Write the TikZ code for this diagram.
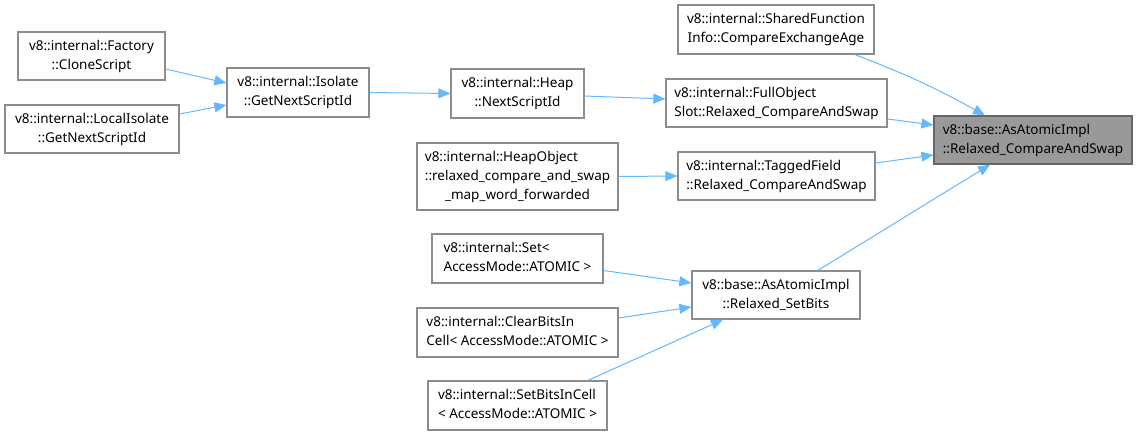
\documentclass[tikz,border=0pt]{standalone}
\usepackage{fontspec}
\setmainfont{Noto Sans}
\usetikzlibrary{arrows.meta,calc}
\definecolor{edgeblue}{HTML}{63B8FF}
\definecolor{boxgray}{HTML}{8C8C8C}
\definecolor{tgtfill}{HTML}{999999}
\definecolor{tgtdraw}{HTML}{666666}
\newcommand{\lbl}[2]{\begin{tabular}{@{}l@{}}#1\\\multicolumn{1}{@{}c@{}}{#2}\end{tabular}}
\begin{document}
\begin{tikzpicture}[x=1pt,y=-1pt,
  fn/.style={draw=boxgray,line width=1.3pt,fill=white,inner sep=0pt,font=\fontsize{13.5}{19}\selectfont},
  tg/.style={fn,draw=tgtdraw,fill=tgtfill},
  call/.style={draw=edgeblue,line width=1pt,-{Triangle[length=12pt,width=10pt]}}]
\useasboundingbox (0,0) rectangle (1137,435);
\renewcommand{\arraystretch}{1.0}
\node[fn,minimum width=147,minimum height=48] (fac) at (91.5,56) {\lbl{v8::internal::Factory}{::CloneScript}};
\node[fn,minimum width=174,minimum height=48] (liso) at (92,129) {\lbl{v8::internal::LocalIsolate}{::GetNextScriptId}};
\node[fn,minimum width=142,minimum height=49] (iso) at (298,92.5) {\lbl{v8::internal::Isolate}{::GetNextScriptId}};
\node[fn,minimum width=133,minimum height=49] (heap) at (517.5,93.5) {\lbl{v8::internal::Heap}{::NextScriptId}};
\node[fn,minimum width=196,minimum height=49] (sfi) at (776,29.5) {\lbl{v8::internal::SharedFunction}{Info::CompareExchangeAge}};
\node[fn,minimum width=221,minimum height=48] (fos) at (776.5,103) {\lbl{v8::internal::FullObject}{Slot::Relaxed\_CompareAndSwap}};
\node[fn,minimum width=201,minimum height=67] (hobj) at (517.5,176.5) {\lbl{v8::internal::HeapObject\\::relaxed\_compare\_and\_swap}{\_map\_word\_forwarded}};
\node[fn,minimum width=197,minimum height=48] (tf) at (776.5,176) {\lbl{v8::internal::TaggedField}{::Relaxed\_CompareAndSwap}};
\node[tg,minimum width=198,minimum height=48] (tgt) at (1033,140) {\lbl{v8::base::AsAtomicImpl}{::Relaxed\_CompareAndSwap}};
\node[fn,minimum width=171,minimum height=49] (set) at (517.5,258.5) {\lbl{v8::internal::Set<}{AccessMode::ATOMIC >}};
\node[fn,minimum width=201,minimum height=49] (clr) at (517.5,332.5) {\lbl{v8::internal::ClearBitsIn}{Cell< AccessMode::ATOMIC >}};
\node[fn,minimum width=179,minimum height=49] (sbc) at (517.5,405.5) {\lbl{v8::internal::SetBitsInCell}{< AccessMode::ATOMIC >}};
\node[fn,minimum width=168,minimum height=48] (sb) at (776,295) {\lbl{v8::base::AsAtomicImpl}{::Relaxed\_SetBits}};
\draw[call] ($(fac.east)+(0,13)$) -- ($(iso.west)+(0,-9.5)$);
\draw[call] ($(liso.east)+(0,-15)$) -- ($(iso.west)+(0,12.5)$);
\draw[call] (iso.east) -- (heap.west);
\draw[call] ($(heap.east)+(0,2.5)$) -- ($(fos.west)+(0,-4)$);
\draw[call] (hobj.east) -- (tf.west);
\draw[call] ($(sfi.south)+(79,0)$) to[bend left=4] ($(tgt.north)+(-48,0)$);
\draw[call] ($(fos.east)+(0,16)$) -- ($(tgt.west)+(0,-15)$);
\draw[call] ($(tf.east)+(0,-13)$) -- ($(tgt.west)+(0,15)$);
\draw[call] ($(sb.north)+(42,0)$) -- ($(tgt.south)+(-43,0)$);
\draw[call] ($(set.east)+(0,12)$) -- ($(sb.west)+(0,-12)$);
\draw[call] ($(clr.east)+(0,-14.5)$) -- ($(sb.west)+(0,12)$);
\draw[call] ($(sbc.north)+(70.5,0)$) -- ($(sb.south)+(-53,0)$);
\end{tikzpicture}
\end{document}
